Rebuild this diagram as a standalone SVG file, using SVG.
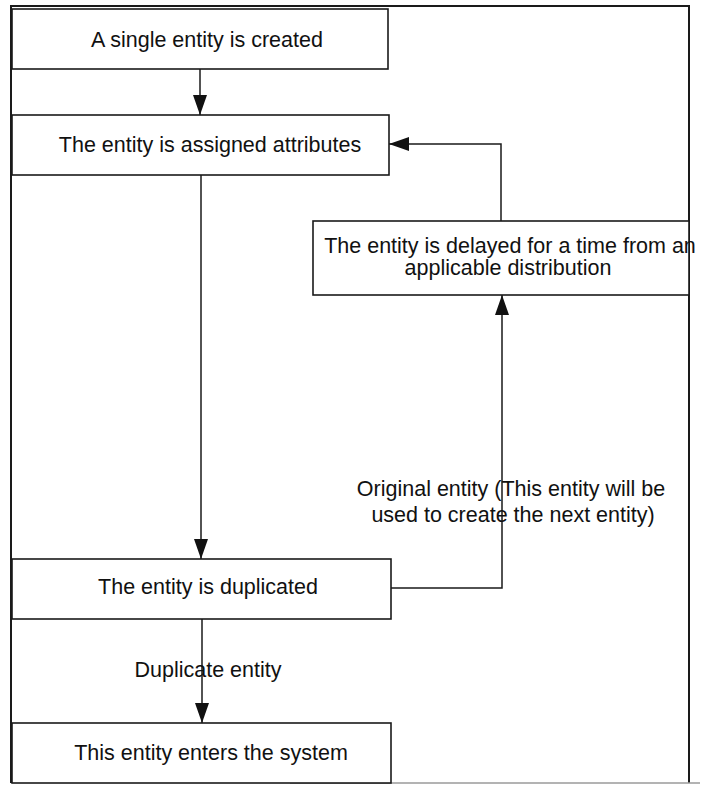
<svg xmlns="http://www.w3.org/2000/svg" width="702" height="785" viewBox="0 0 702 785">
  <style>
    .box { fill: #ffffff; stroke: #1a1a1a; stroke-width: 1.6; }
    .frame { fill: none; stroke: #1a1a1a; stroke-width: 2; }
    .wire { fill: none; stroke: #1a1a1a; stroke-width: 1.5; }
    text { font-family: "Liberation Sans", Arial, sans-serif; font-size: 21.5px; fill: #111111; text-anchor: middle; }
  </style>
  <defs>
    <marker id="arrow" viewBox="0 0 20 14" refX="20" refY="7" markerWidth="20" markerHeight="14" markerUnits="userSpaceOnUse" orient="auto">
      <path d="M0,0 L20,7 L0,14 Z" fill="#111111"/>
    </marker>
  </defs>

  <rect fill="#ffffff" x="0" y="0" width="702" height="785"/>

  <!-- outer frame -->
  <path class="frame" d="M11,783 L11,6 L689,6 L689,783"/>
  <line x1="290" y1="783" x2="700" y2="783" stroke="#9a9a9a" stroke-width="1.5"/>

  <!-- connectors -->
  <g id="connectors">
    <line class="wire" x1="200" y1="69" x2="200" y2="115" marker-end="url(#arrow)"/>
    <line class="wire" x1="201" y1="175" x2="201" y2="559" marker-end="url(#arrow)"/>
    <line class="wire" x1="202" y1="619" x2="202" y2="723" marker-end="url(#arrow)"/>
    <polyline class="wire" points="391,588 502,588 502,295" marker-end="url(#arrow)"/>
    <polyline class="wire" points="501,221 501,144 389,144" marker-end="url(#arrow)"/>
    <text x="208" y="677">Duplicate entity</text>
    <text x="511" y="496">Original entity (This entity will be</text>
    <text x="513" y="522">used to create the next entity)</text>
  </g>

  <g id="created">
    <rect class="box" x="12" y="9" width="376" height="60"/>
    <text x="207" y="47">A single entity is created</text>
  </g>

  <g id="attributes">
    <rect class="box" x="12" y="115" width="377" height="60"/>
    <text x="210" y="152">The entity is assigned attributes</text>
  </g>

  <g id="delayed">
    <rect class="box" x="313" y="221" width="376" height="74"/>
    <text x="510" y="253">The entity is delayed for a time from an</text>
    <text x="508" y="275">applicable distribution</text>
  </g>

  <g id="duplicated">
    <rect class="box" x="12" y="559" width="379" height="60"/>
    <text x="208" y="594">The entity is duplicated</text>
  </g>

  <g id="enters">
    <rect class="box" x="12" y="723" width="379" height="60"/>
    <text x="211" y="760">This entity enters the system</text>
  </g>
</svg>
